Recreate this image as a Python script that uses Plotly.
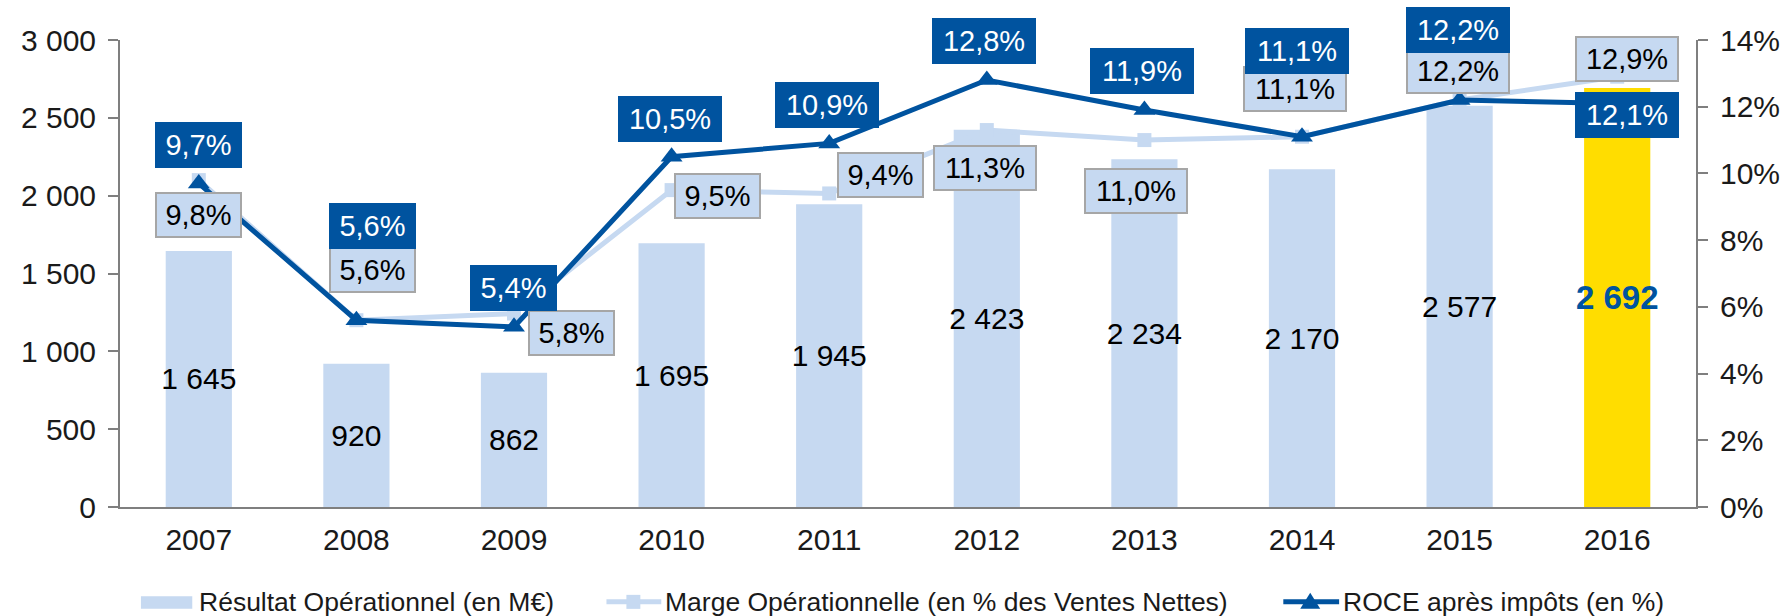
import plotly.graph_objects as go

# --- data -------------------------------------------------------------
years = ["2007", "2008", "2009", "2010", "2011", "2012", "2013", "2014", "2015", "2016"]
resultat_op = [1645, 920, 862, 1695, 1945, 2423, 2234, 2170, 2577, 2692]      # M€
marge_op = [9.8, 5.6, 5.8, 9.5, 9.4, 11.3, 11.0, 11.1, 12.2, 12.9]           # % des ventes nettes
roce = [9.7, 5.6, 5.4, 10.5, 10.9, 12.8, 11.9, 11.1, 12.2, 12.1]             # % après impôts
highlight_year = "2016"

left_ticks = [0, 500, 1000, 1500, 2000, 2500, 3000]
right_ticks = [0, 2, 4, 6, 8, 10, 12, 14]

# --- styles -----------------------------------------------------------
FONT = "Liberation Sans, Arial, sans-serif"
LIGHT = "#C6D9F1"
DARK = "#00539F"
YELLOW = "#FFDD00"
AXIS = "#7F7F7F"
TXT = "#1A1A1A"
TICK_SIZE = 30
LABEL_SIZE = 29

# label offsets in pixels (dx, dy) relative to each point
roce_off = [(0, 38), (16, 94), (-1, 39), (-2, 38), (-2, 38), (-3, 39), (-2, 39), (-5, 86), (-2, 70), (10, -12)]
marge_off = [(0, -35), (16, 50), (57, -19), (46, -6), (51, 18), (-2, -38), (-8, -51), (-7, 48), (-2, 29), (10, 18)]


def fmt_int(v):
    return f"{v:,}".replace(",", " ")


def fmt_pct(v):
    return f"{v:.1f}".replace(".", ",") + "%"


pos = list(range(len(years)))  # slot index of each year on the x axis

bar_colors = [YELLOW if y == highlight_year else LIGHT for y in years]
bar_text = [f"<b>{fmt_int(v)}</b>" if y == highlight_year else fmt_int(v)
            for y, v in zip(years, resultat_op)]
bar_text_colors = [DARK if y == highlight_year else "#000000" for y in years]
bar_text_sizes = [33 if y == highlight_year else TICK_SIZE for y in years]

fig = go.Figure()

fig.add_trace(go.Bar(
    x=pos, y=resultat_op, width=0.42,
    marker=dict(color=bar_colors, line=dict(width=0)),
    text=bar_text, textposition="inside", insidetextanchor="middle", textangle=0,
    textfont=dict(family=FONT, size=bar_text_sizes, color=bar_text_colors),
    constraintext="none",
    name="Résultat Opérationnel (en M€)", showlegend=False,
))

fig.add_trace(go.Scatter(
    x=pos, y=marge_op, yaxis="y2", mode="lines+markers",
    line=dict(color=LIGHT, width=5),
    marker=dict(symbol="square", size=14, color=LIGHT),
    cliponaxis=False,
    name="Marge Opérationnelle (en % des Ventes Nettes)", showlegend=False,
))

fig.add_trace(go.Scatter(
    x=pos, y=roce, yaxis="y2", mode="lines+markers",
    line=dict(color=DARK, width=5),
    marker=dict(symbol="triangle-up", size=19, color=DARK),
    cliponaxis=False,
    name="ROCE après impôts (en %)", showlegend=False,
))

annotations = []
for i, v, (dx, dy) in zip(pos, marge_op, marge_off):
    txt = fmt_pct(v)
    annotations.append(dict(
        x=i, y=v, xref="x", yref="y2", text=txt, showarrow=False,
        xshift=dx, yshift=dy,
        font=dict(family=FONT, size=LABEL_SIZE, color="#000000"),
        bgcolor=LIGHT, bordercolor="#A6A6A6", borderwidth=2, borderpad=1,
        width=17 * len(txt) + 13, height=40,
    ))
for i, v, (dx, dy) in zip(pos, roce, roce_off):
    txt = fmt_pct(v)
    annotations.append(dict(
        x=i, y=v, xref="x", yref="y2", text=txt, showarrow=False,
        xshift=dx, yshift=dy,
        font=dict(family=FONT, size=LABEL_SIZE, color="#FFFFFF"),
        bgcolor=DARK, bordercolor=DARK, borderwidth=2, borderpad=1,
        width=17 * len(txt) + 13, height=40,
    ))

# --- legend drawn below the plot area -------------------------------
X0, X1, Y0, Y1 = 120, 1701, 506.7, 40


def px(x):
    return (x - X0) / (X1 - X0)


def py(y):
    return (Y0 - y) / (Y0 - Y1)


LEG_Y = 601.5
LEG_FONT = dict(family=FONT, size=26.5, color=TXT)
shapes = [
    dict(type="rect", xref="paper", yref="paper",
         x0=px(141), x1=px(192.5), y0=py(608.5), y1=py(596),
         fillcolor=LIGHT, line=dict(width=0), layer="above"),
    dict(type="line", xref="paper", yref="paper",
         x0=px(608), x1=px(663), y0=py(LEG_Y), y1=py(LEG_Y),
         line=dict(color=LIGHT, width=5), layer="above"),
    dict(type="rect", xref="paper", yref="paper",
         x0=px(628), x1=px(642), y0=py(LEG_Y + 7), y1=py(LEG_Y - 7),
         fillcolor=LIGHT, line=dict(width=0), layer="above"),
    dict(type="line", xref="paper", yref="paper",
         x0=px(1287), x1=px(1343), y0=py(LEG_Y), y1=py(LEG_Y),
         line=dict(color=DARK, width=5), layer="above"),
    dict(type="path", xref="paper", yref="paper",
         xsizemode="pixel", ysizemode="pixel",
         xanchor=px(1314), yanchor=py(LEG_Y),
         path="M -10,-7 L 10,-7 L 0,9 Z",
         fillcolor=DARK, line=dict(width=0), layer="above"),
]
annotations += [
    dict(x=px(197), y=py(LEG_Y), xref="paper", yref="paper", xanchor="left", yanchor="middle",
         text="Résultat Opérationnel (en M€)", showarrow=False, font=LEG_FONT),
    dict(x=px(665), y=py(LEG_Y), xref="paper", yref="paper", xanchor="left", yanchor="middle",
         text="Marge Opérationnelle (en % des Ventes Nettes)", showarrow=False, font=LEG_FONT),
    dict(x=px(1345), y=py(LEG_Y), xref="paper", yref="paper", xanchor="left", yanchor="middle",
         text="ROCE après impôts (en %)", showarrow=False, font=LEG_FONT),
]

fig.update_layout(
    width=1792, height=616,
    margin=dict(l=X0, r=1792 - X1, t=Y1, b=616 - Y0),
    paper_bgcolor="white", plot_bgcolor="white",
    font=dict(family=FONT, size=TICK_SIZE, color=TXT),
    xaxis=dict(
        range=[-0.5, len(years) - 0.5], tickvals=pos, ticktext=years,
        showline=True, linecolor=AXIS, linewidth=2,
        ticks="", tickfont=dict(family=FONT, size=TICK_SIZE, color=TXT),
        showgrid=False, zeroline=False, ticklabelstandoff=5,
    ),
    yaxis=dict(
        range=[0, 3000], tickvals=left_ticks, ticktext=[fmt_int(v) for v in left_ticks],
        showline=True, linecolor=AXIS, linewidth=2,
        ticks="outside", ticklen=10, tickwidth=2, tickcolor=AXIS,
        tickfont=dict(family=FONT, size=TICK_SIZE, color=TXT),
        showgrid=False, zeroline=False, ticklabelstandoff=6,
    ),
    yaxis2=dict(
        range=[0, 14], tickvals=right_ticks, ticktext=[f"{v}%" for v in right_ticks],
        overlaying="y", side="right",
        showline=True, linecolor=AXIS, linewidth=2,
        ticks="outside", ticklen=10, tickwidth=2, tickcolor=AXIS,
        tickfont=dict(family=FONT, size=TICK_SIZE, color=TXT),
        showgrid=False, zeroline=False, ticklabelstandoff=6,
    ),
    annotations=annotations,
    shapes=shapes,
    showlegend=False,
)

fig.write_html("out.html")
